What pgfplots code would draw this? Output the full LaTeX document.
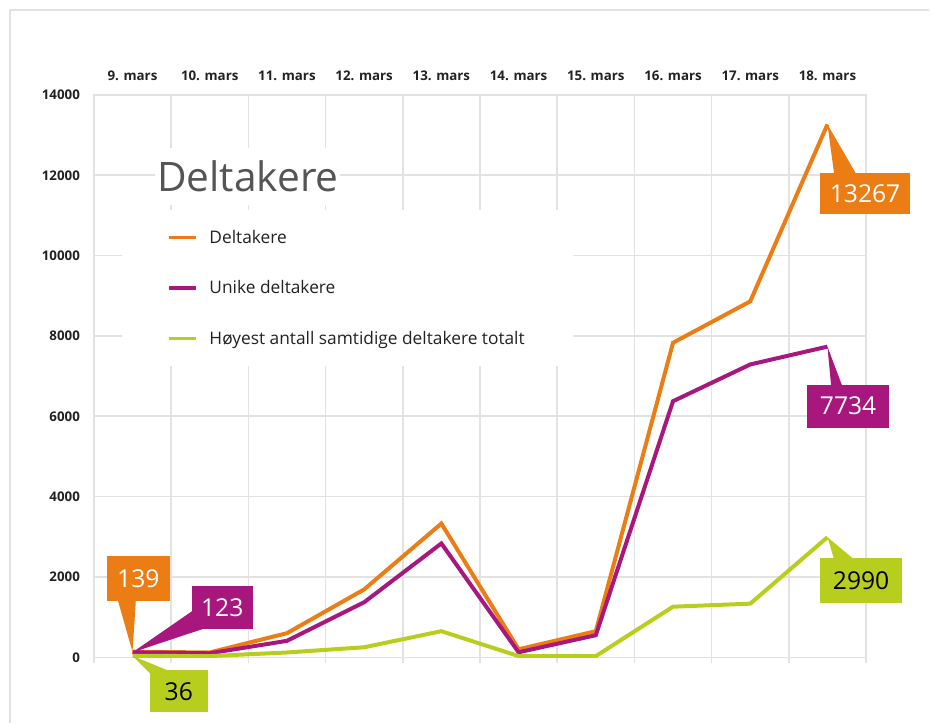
\documentclass[border=0pt]{standalone}
\usepackage{fontspec}
\setmainfont{Open Sans}
\usepackage{pgfplots}
\pgfplotsset{compat=1.18}
\definecolor{cor}{HTML}{EC7D15}
\definecolor{cpu}{HTML}{A8177E}
\definecolor{cgr}{HTML}{B8CE1F}
\definecolor{cgrid}{HTML}{E2E2E2}
\definecolor{ctitle}{HTML}{555555}
\definecolor{ctext}{HTML}{222222}

\begin{document}
\begin{tikzpicture}
\path (0,0) rectangle (697.5pt,-543pt);
\begin{axis}[
  at={(70.5pt,-493.5pt)}, anchor=south west,
  scale only axis, width=579.75pt, height=422.25pt,
  xmin=-0.5, xmax=9.5, ymin=0, ymax=14000,
  scaled ticks=false,
  xtick={0,...,9},
  xticklabels={9. mars,10. mars,11. mars,12. mars,13. mars,14. mars,15. mars,16. mars,17. mars,18. mars},
  xticklabel pos=right,
  xtick pos=left,
  minor xtick={-0.5,0.5,...,9.5},
  xminorgrids=true,
  ytick={0,2000,...,14000},
  ymajorgrids=true,
  grid style={cgrid, line width=1.2pt},
  minor grid style={cgrid, line width=1.2pt},
  axis line style={cgrid, line width=1.2pt},
  tick align=outside,
  major tick length=0pt, minor tick length=4pt,
  tick style={cgrid, line width=1.2pt},
  /pgf/number format/assume math mode=true,
  /pgf/number format/1000 sep={},
  ticklabel style={font=\bfseries\fontsize{10}{12}\selectfont, text=ctext},
  xticklabel style={anchor=base, yshift=11pt},
  yticklabel style={anchor=east, xshift=-7pt},
  legend style={at={(0.0362,0.7957)}, anchor=north west, draw=none, fill=white,
    inner xsep=34pt, inner ysep=13pt, row sep=22.5pt, column sep=7pt,
    font=\fontsize{13}{15}\selectfont, text=ctext},
  legend cell align=left,
  legend image code/.code={\draw[#1, line width=2.6pt] (0pt,0pt) -- (20pt,0pt);},
]
\addplot[cor, line width=3pt] coordinates {(0,139)(1,120)(2,600)(3,1690)(4,3330)(5,200)(6,650)(7,7830)(8,8860)(9,13267)};
\addplot[cpu, line width=3pt] coordinates {(0,123)(1,100)(2,410)(3,1370)(4,2835)(5,125)(6,550)(7,6375)(8,7290)(9,7734)};
\addplot[cgr, line width=3pt] coordinates {(0,36)(1,30)(2,120)(3,250)(4,650)(5,30)(6,30)(7,1260)(8,1335)(9,2990)};
\legend{Deltakere, Unike deltakere, Høyest antall samtidige deltakere totalt}
\coordinate (o0) at (axis cs:0,139);
\coordinate (p0) at (axis cs:0,123);
\coordinate (g0) at (axis cs:0,36);
\coordinate (o9) at (axis cs:9,13267);
\coordinate (p9) at (axis cs:9,7734);
\coordinate (g9) at (axis cs:9,2990);
\end{axis}
\begin{scope}[x=0.75pt, y=-0.75pt]
  \draw[cgrid, line width=1.5pt] (10,724) -- (10,10) -- (930,10);
  % title
  \fill[white] (155,148) rectangle (340,205);
  \node[anchor=base west, inner sep=0pt, text=ctitle, font=\fontsize{30.5}{34}\selectfont] at (157,192) {Deltakere};
  % callouts
  \tikzset{cnum/.style={inner sep=0pt, font=\fontsize{18.5}{20}\selectfont}}
  \fill[cor] (o0) -- (118,601) -- (136,601) -- cycle;
  \fill[cor] (107,557) rectangle (170,602);
  \node[cnum, text=white] at (138.5,579.5) {139};
  \fill[cpu] (p0) -- (192,612) -- (205,629) -- cycle;
  \fill[cpu] (192,587) rectangle (253,630);
  \node[cnum, text=white] at (222.5,608.5) {123};
  \fill[cgr] (g0) -- (150,674) -- (170,672) -- cycle;
  \fill[cgr] (150,671) rectangle (208,713);
  \node[cnum, text=black] at (179,692) {36};
  \fill[cor] (o9) -- (835,174) -- (857,174) -- cycle;
  \fill[cor] (821,173) rectangle (911,214);
  \node[cnum, text=white] at (866,193.5) {13267};
  \fill[cpu] (p9) -- (832,386) -- (843,386) -- cycle;
  \fill[cpu] (808,385) rectangle (890,428);
  \node[cnum, text=white] at (849,406.5) {7734};
  \fill[cgr] (g9) -- (835,560) -- (855,560) -- cycle;
  \fill[cgr] (821,559) rectangle (903,604);
  \node[cnum, text=black] at (862,581.5) {2990};
\end{scope}
\end{tikzpicture}
\end{document}
